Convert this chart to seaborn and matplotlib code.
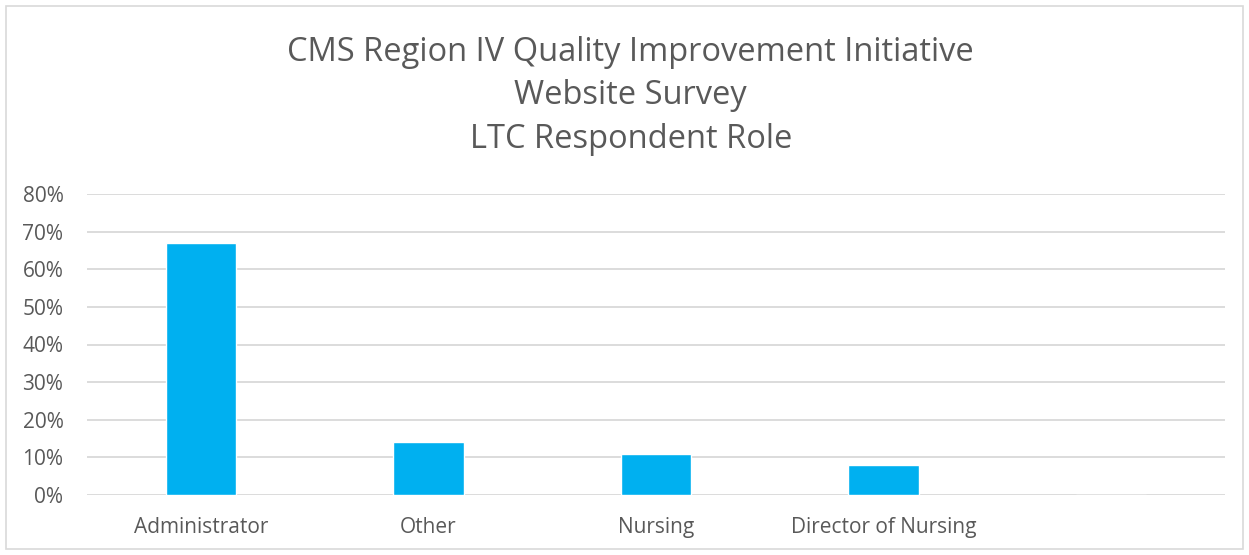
import pandas as pd
import matplotlib.pyplot as plt
import seaborn as sns
from matplotlib.patches import Rectangle
from matplotlib.ticker import PercentFormatter

roles = ['Administrator', 'Other', 'Nursing', 'Director of Nursing', ' ']
shares = [0.67, 0.14, 0.11, 0.08, 0.0]

df = pd.DataFrame({'Role': roles, 'Share': shares})

sns.set_style('white')
plt.rcParams['font.family'] = ['Open Sans', 'DejaVu Sans']
txt = '#595959'

fig = plt.figure(figsize=(12.49, 5.55), dpi=100)
ax = fig.add_axes([87 / 1249, 60 / 555, 1138 / 1249, 301 / 555])

sns.barplot(data=df, x='Role', y='Share', color='#00B0F0', width=0.31,
            saturation=1, ax=ax, zorder=3)

ax.set_ylim(0, 0.8)
ax.set_yticks([i / 10 for i in range(9)])
ax.yaxis.set_major_formatter(PercentFormatter(1.0, decimals=0))
ax.grid(axis='y', color='#D9D9D9', linewidth=1.3, zorder=0)
ax.set_xlim(-0.5, 4.5)
for s in ax.spines.values():
    s.set_visible(False)
ax.tick_params(axis='both', length=0, labelsize=15, labelcolor=txt)
ax.tick_params(axis='x', pad=16)
ax.tick_params(axis='y', pad=17)
ax.set_xlabel('')
ax.set_ylabel('')

fig.text(0.505, 1 - 96 / 555, 'CMS Region IV Quality Improvement Initiative\nWebsite Survey\nLTC Respondent Role',
         ha='center', va='center', fontsize=23.5, color=txt, linespacing=1.43)

fig.patches.append(Rectangle((6 / 1249, 6 / 555), 1237 / 1249, 543 / 555,
                             transform=fig.transFigure, fill=False,
                             edgecolor='#D9D9D9', linewidth=1.2))

fig.savefig('out.png', dpi=100)
